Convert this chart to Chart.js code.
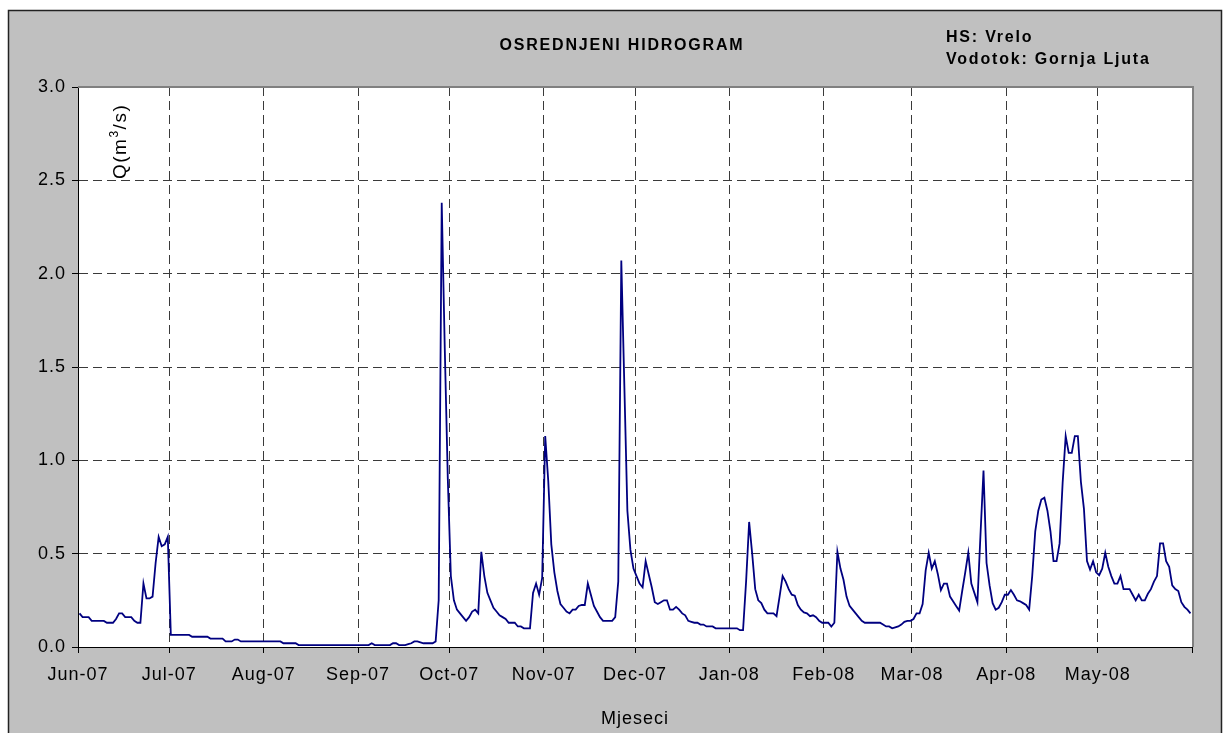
<!DOCTYPE html>
<html lang="hr">
<head>
<meta charset="UTF-8">
<title>Osrednjeni hidrogram - HS Vrelo</title>
<script src="https://cdn.jsdelivr.net/npm/chart.js"></script>
<style>
    body { margin: 0; background: #fff; }
    #wrap { position: relative; width: 1223px; height: 733px; }
</style>
</head>
<body>
<div id="wrap"><canvas id="hydro" width="1223" height="733"></canvas></div>
<script>
// month axis
const monthLabels = ["Jun-07", "Jul-07", "Aug-07", "Sep-07", "Oct-07", "Nov-07",
                     "Dec-07", "Jan-08", "Feb-08", "Mar-08", "Apr-08", "May-08"];
const monthDays = [30, 31, 31, 30, 31, 30, 31, 31, 29, 31, 30, 31];
const yTicks = [0, 0.5, 1.0, 1.5, 2.0, 2.5, 3.0];

// daily discharge Q (m3/s)
const qJun07 = [0.18,0.16,0.16,0.16,0.14,0.14,0.14,0.14,0.14,0.13,0.13,0.13,0.15,0.18,0.18,
                0.16,0.16,0.16,0.14,0.13,0.13,0.34,0.26,0.26,0.27,0.45,0.59,0.54,0.55,0.59];
const qJul07 = [0.065,0.065,0.065,0.065,0.065,0.065,0.065,0.055,0.055,0.055,0.055,0.055,0.055,
                0.045,0.045,0.045,0.045,0.045,0.03,0.03,0.03,0.04,0.04,
                0.03,0.03,0.03,0.03,0.03,0.03,0.03,0.03];
const qAug07 = [0.03,0.03,0.03,0.03,0.03,0.03,0.02,0.02,0.02,0.02,0.02,
                0.01,0.01,0.01,0.01,0.01,0.01,0.01,0.01,0.01,0.01,
                0.01,0.01,0.01,0.01,0.01,0.01,0.01,0.01,0.01,0.01];
const qSep07 = [0.01,0.01,0.01,0.01,0.02,0.01,0.01,0.01,0.01,0.01,0.01,0.02,0.02,0.01,0.01,
                0.01,0.015,0.02,0.03,0.03,0.025,0.02,0.02,0.02,0.02,0.03,0.25,2.38,1.6,0.9];
const qOct07 = [0.38,0.25,0.2,0.18,0.16,0.14,0.16,0.19,0.2,0.18,0.51,0.38,0.29,0.25,0.21,0.19,
                0.17,0.16,0.15,0.13,0.13,0.13,0.11,0.11,0.1,0.1,0.1,0.29,0.34,0.28,0.37];
const qNov07 = [1.13,0.89,0.55,0.4,0.3,0.23,0.21,0.19,0.18,0.2,0.2,0.22,0.225,0.225,0.34,
                0.28,0.22,0.19,0.16,0.14,0.14,0.14,0.14,0.16,0.35,2.07,1.4,0.73,0.52,0.42];
const qDec07 = [0.38,0.34,0.32,0.46,0.39,0.32,0.24,0.23,0.24,0.25,0.25,0.2,0.2,0.215,0.2,0.18,
                0.17,0.14,0.135,0.13,0.13,0.12,0.12,0.11,0.11,0.11,0.1,0.1,0.1,0.1,0.1];
const qJan08 = [0.1,0.1,0.1,0.09,0.09,0.35,0.67,0.5,0.31,0.25,0.235,0.2,0.18,0.18,0.18,0.165,
                0.27,0.38,0.35,0.31,0.28,0.275,0.225,0.2,0.185,0.18,0.165,0.17,0.16,0.14,0.13];
const qFeb08 = [0.13,0.13,0.11,0.13,0.51,0.42,0.36,0.27,0.22,0.2,0.18,0.16,0.14,0.13,0.13,
                0.13,0.13,0.13,0.13,0.12,0.11,0.11,0.1,0.105,0.11,0.12,0.135,0.14,0.14];
const qMar08 = [0.15,0.18,0.18,0.23,0.41,0.505,0.42,0.46,0.39,0.305,0.34,0.34,0.27,0.245,0.22,0.195,
                0.3,0.4,0.505,0.34,0.29,0.24,0.6,0.945,0.45,0.33,0.235,0.2,0.21,0.24,0.28];
const qApr08 = [0.28,0.305,0.28,0.25,0.245,0.235,0.225,0.2,0.38,0.62,0.73,0.79,0.8,0.73,0.62,
                0.46,0.46,0.555,0.88,1.13,1.04,1.04,1.13,1.13,0.885,0.74,0.46,0.415,0.46,0.4];
const qMay08 = [0.385,0.42,0.505,0.43,0.38,0.34,0.34,0.38,0.31,0.31,0.31,0.28,0.25,0.28,0.25,0.25,
                0.285,0.31,0.35,0.38,0.555,0.555,0.46,0.43,0.33,0.31,0.3,0.24,0.215,0.2,0.18];

const daily = [].concat(qJun07, qJul07, qAug07, qSep07, qOct07, qNov07,
                        qDec07, qJan08, qFeb08, qMar08, qApr08, qMay08);
// points sit in the middle of their day
const points = daily.map((q, i) => ({ x: i + 0.5, y: q }));

// month boundaries on the day axis
const monthStarts = [0];
monthDays.forEach(n => monthStarts.push(monthStarts[monthStarts.length - 1] + n));
const totalDays = monthStarts[monthStarts.length - 1];

const FONT = '"Liberation Sans", Arial, sans-serif';
const gridColor = '#3a3a3a';

// grey frame, plot background, header texts
const frame = {
    id: 'frame',
    beforeDraw(chart) {
        const { ctx, chartArea: a } = chart;
        ctx.save();
        ctx.fillStyle = '#fff';
        ctx.fillRect(0, 0, chart.width, chart.height);
        ctx.fillStyle = '#c0c0c0';
        ctx.fillRect(8, 10, chart.width - 10, chart.height);
        ctx.strokeStyle = '#222';
        ctx.lineWidth = 1.5;
        ctx.strokeRect(8.5, 10.5, chart.width - 10, chart.height + 10);
        ctx.fillStyle = '#fff';
        ctx.fillRect(a.left, a.top, a.width, a.height);
        ctx.restore();
        ctx.letterSpacing = '1px';
    },
    afterDraw(chart) {
        const { ctx, chartArea: a } = chart;
        ctx.save();
        // plot border top/right
        ctx.strokeStyle = '#808080';
        ctx.lineWidth = 2;
        ctx.beginPath();
        ctx.moveTo(a.left, a.top);
        ctx.lineTo(a.right + 1, a.top);
        ctx.lineTo(a.right + 1, a.bottom);
        ctx.stroke();

        ctx.fillStyle = '#000';
        ctx.letterSpacing = '1.8px';
        ctx.font = 'bold 16px ' + FONT;
        ctx.textBaseline = 'alphabetic';
        ctx.textAlign = 'center';
        ctx.fillText('OSREDNJENI HIDROGRAM', 622, 50);
        ctx.textAlign = 'left';
        ctx.fillText('HS: Vrelo', 946, 42);
        ctx.fillText('Vodotok: Gornja Ljuta', 946, 64);

        // Q(m3/s) label inside the plot, rotated
        ctx.letterSpacing = '1.5px';
        ctx.translate(126, 179);
        ctx.rotate(-Math.PI / 2);
        ctx.font = '19px ' + FONT;
        ctx.textAlign = 'left';
        let x = 0;
        ctx.fillText('Q(m', x, 0);
        x += ctx.measureText('Q(m').width;
        ctx.font = '12px ' + FONT;
        ctx.fillText('3', x, -8);
        x += ctx.measureText('3').width;
        ctx.font = '19px ' + FONT;
        ctx.fillText('/s)', x, 0);
        ctx.restore();
        ctx.letterSpacing = '0px';
    }
};

new Chart(document.getElementById('hydro'), {
    type: 'line',
    data: {
        datasets: [{
            data: points,
            borderColor: '#000080',
            borderWidth: 1.8,
            pointRadius: 0,
            tension: 0,
            fill: false
        }]
    },
    options: {
        responsive: false,
        animation: false,
        layout: { padding: { top: 87, right: 31, left: 0, bottom: 0 } },
        plugins: { legend: { display: false }, tooltip: { enabled: false } },
        scales: {
            x: {
                type: 'linear',
                min: 0,
                max: totalDays,
                afterBuildTicks: axis => { axis.ticks = monthStarts.map(v => ({ value: v })); },
                afterFit: axis => { axis.height = 86; },
                ticks: {
                    autoSkip: false,
                    maxRotation: 0,
                    padding: 11,
                    color: '#000',
                    font: { family: FONT, size: 18 },
                    callback: (v, i) => monthLabels[i] || ''
                },
                grid: {
                    color: c => (c.tick && c.tick.value > 0 && c.tick.value < totalDays) ? gridColor : 'rgba(0,0,0,0)',
                    lineWidth: 1,
                    tickLength: 6,
                    tickColor: '#000'
                },
                border: { display: true, color: '#000', width: 1, dash: [9, 5] },
                title: {
                    display: true,
                    text: 'Mjeseci',
                    color: '#000',
                    font: { family: FONT, size: 18 },
                    padding: { top: 4, bottom: 3 }
                }
            },
            y: {
                min: 0,
                max: 3,
                afterBuildTicks: axis => { axis.ticks = yTicks.map(v => ({ value: v })); },
                afterFit: axis => { axis.width = 78; },
                ticks: {
                    padding: 6,
                    color: '#000',
                    font: { family: FONT, size: 18 },
                    callback: v => v.toFixed(1)
                },
                grid: {
                    color: c => (c.tick && c.tick.value > 0 && c.tick.value < 3) ? gridColor : 'rgba(0,0,0,0)',
                    lineWidth: 1,
                    tickLength: 6,
                    tickColor: '#000'
                },
                border: { display: true, color: '#000', width: 1, dash: [9, 5] }
            }
        }
    },
    plugins: [frame]
});
</script>
</body>
</html>
